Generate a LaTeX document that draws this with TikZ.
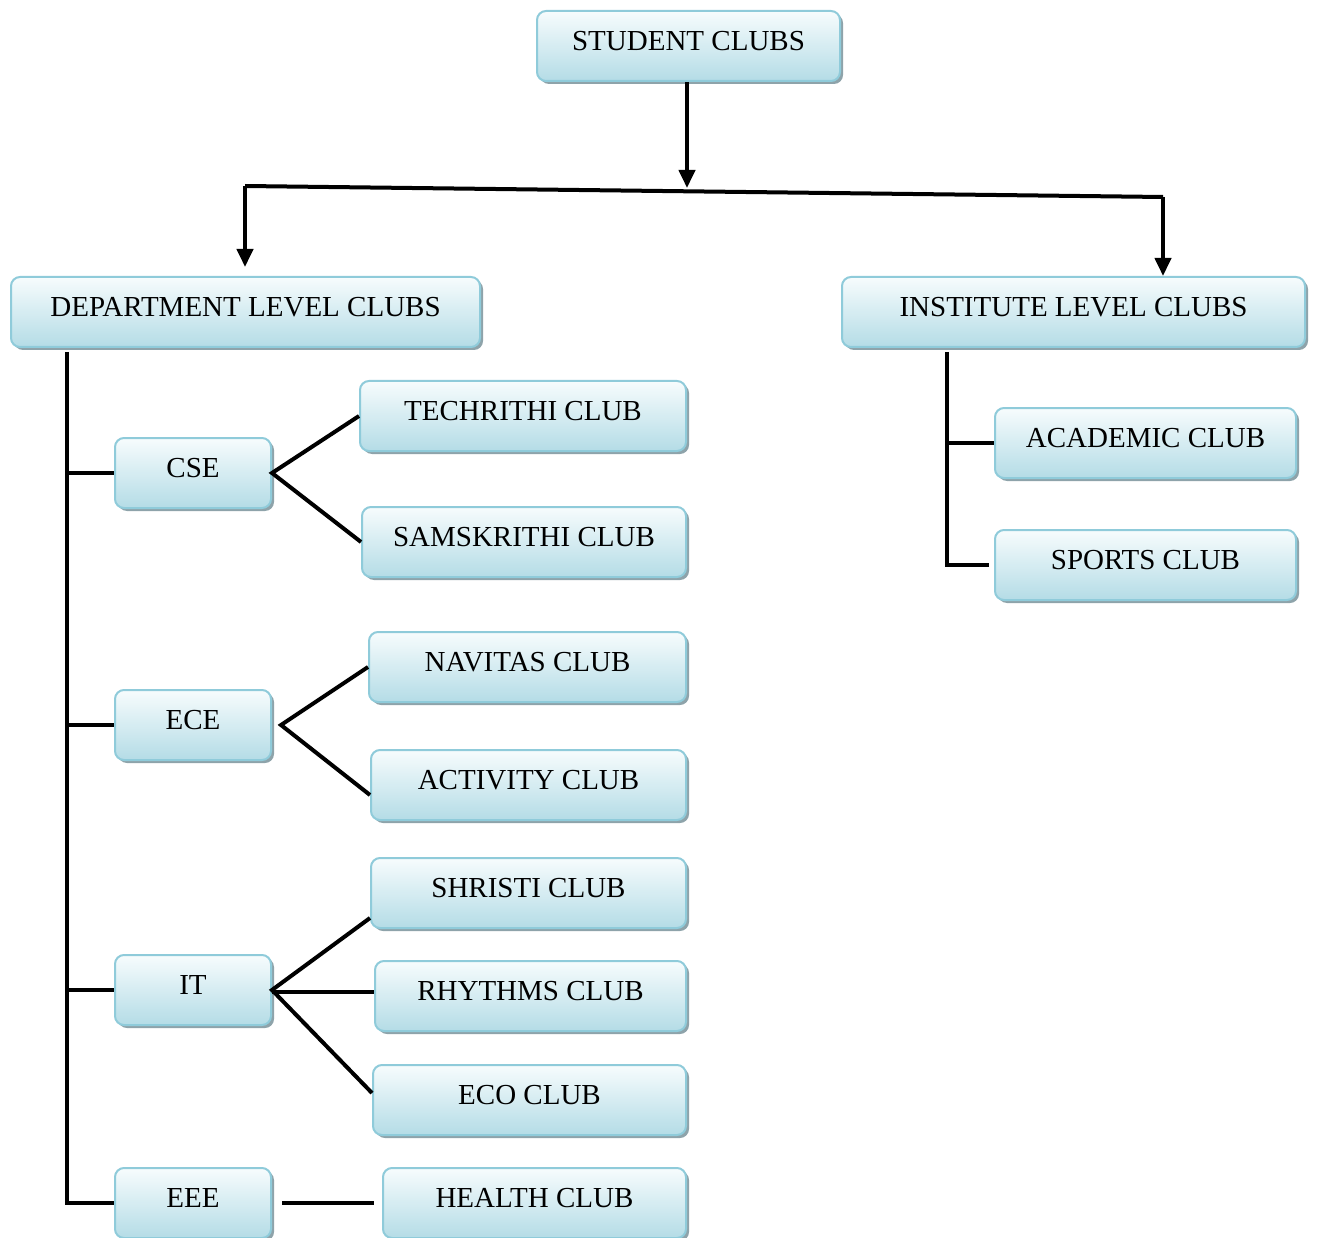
\documentclass[tikz,border=0pt]{standalone}
\usepackage{fontspec}
\setmainfont{Liberation Serif}
\usetikzlibrary{arrows.meta, shadows}
\definecolor{boxtop}{HTML}{F7FCFD}
\definecolor{boxbot}{HTML}{B4DCE6}
\definecolor{boxline}{HTML}{8FCBDA}
\definecolor{boxshade}{HTML}{8EA3AA}

\begin{document}
\begin{tikzpicture}[
    x=1pt, y=-1pt,
    every node/.style={font=\fontsize{29}{34}\selectfont},
    wire/.style={line width=4pt, color=black},
    arr/.style={-{Triangle[length=18pt, width=16pt]}, line width=4pt, color=black},
    club/.style={rectangle, rounded corners=9pt, draw=boxline, line width=2pt,
                 top color=boxtop, bottom color=boxbot,
                 minimum height=70pt, inner sep=0pt,
                 text height=20pt, text depth=11pt,
                 drop shadow={shadow xshift=3pt, shadow yshift=-3pt,
                              fill=boxshade, opacity=1}},
]
\useasboundingbox (0,0) rectangle (1317,1238);

% ================================================================ top level
\node[club, minimum width=303pt] (student) at (688.5, 46) {STUDENT CLUBS};
\node[club, minimum width=469pt] (dept) at (245.5, 312) {DEPARTMENT LEVEL CLUBS};
\node[club, minimum width=463pt] (inst) at (1073.5, 312) {INSTITUTE LEVEL CLUBS};

\coordinate (bl) at (245, 186);
\coordinate (br) at (1163, 197);
\coordinate (bm) at (687, 188);
\draw[wire] (bl) -- (br);
\draw[arr] (bm |- student.south) -- (bm);
\draw[arr, shorten >=9pt] (bl) -- (bl |- dept.north);
\draw[arr] (br) -- (br |- inst.north);

% ================================================================ department side
\foreach \name/\y/\txt in {cse/473/CSE, ece/725/ECE, it/990/IT, eee/1203/EEE}{
    \node[club, minimum width=156pt] (\name) at (193, \y) {\txt};
}

\node[club, minimum width=326pt] (techrithi)  at (523, 416)   {TECHRITHI CLUB};
\node[club, minimum width=324pt] (samskrithi) at (524, 542)   {SAMSKRITHI CLUB};
\node[club, minimum width=317pt] (navitas)    at (527.5, 667) {NAVITAS CLUB};
\node[club, minimum width=315pt] (activity)   at (528.5, 785) {ACTIVITY CLUB};
\node[club, minimum width=315pt] (shristi)    at (528.5, 893) {SHRISTI CLUB};
\node[club, minimum width=311pt] (rhythms)    at (530.5, 996) {RHYTHMS CLUB};
\node[club, minimum width=313pt] (eco)        at (529.5, 1100) {ECO CLUB};
\node[club, minimum width=303pt] (health)     at (534.5, 1203) {HEALTH CLUB};

% spine down the left
\coordinate (dspine) at (67, 1205);
\draw[wire] ([yshift=-4pt]dept.south -| dspine) |- (eee.west);
\foreach \name in {cse, ece, it}{
    \draw[wire] (\name.west -| dspine) -- (\name.west);
}

% branches out to the clubs
\draw[wire] (techrithi.west) -- (cse.east) -- (samskrithi.west);
\draw[wire] (navitas.west) -- ([xshift=9pt]ece.east) -- ([yshift=-10pt]activity.west);
\draw[wire] ([yshift=-25pt]shristi.west) -- (it.east) -- ([yshift=7pt]eco.west);
\draw[wire] ([yshift=-2pt]it.east) -- ([yshift=-2pt]it.east -| rhythms.west);
\draw[wire, shorten <=10pt, shorten >=8pt] (eee.east) -- (health.west);

% ================================================================ institute side
\node[club, minimum width=301pt] (academic) at (1145.5, 443) {ACADEMIC CLUB};
\node[club, minimum width=301pt] (sports)   at (1145.5, 565) {SPORTS CLUB};

\coordinate (ispine) at (947, 567);
\draw[wire] ([yshift=-4pt]inst.south -| ispine) |- ([xshift=-5pt]sports.west);
\draw[wire] (academic.west -| ispine) -- (academic.west);

\end{tikzpicture}
\end{document}
